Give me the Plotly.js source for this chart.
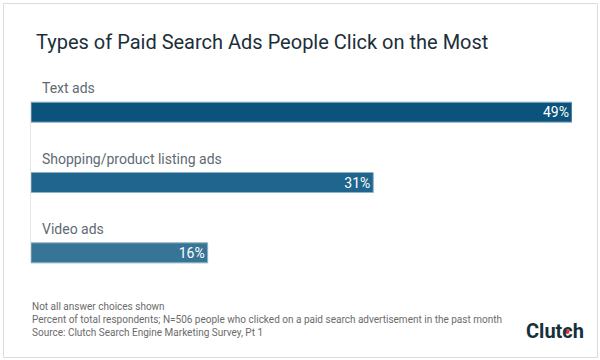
<!DOCTYPE html>
<html>
<head>
<meta charset="utf-8">
<script src="https://cdn.plot.ly/plotly-3.0.1.min.js"></script>
<style>
  html, body { margin: 0; padding: 0; background: #fff; }
  #chart { width: 600px; height: 360px; }
</style>
</head>
<body>
<div id="chart"></div>
<script>
// ---- data ----
const categories = ["Text ads", "Shopping/product listing ads", "Video ads"];
const values = [49, 31, 16];
const valueLabels = values.map(v => v + "%");
const titleText = "Types of Paid Search Ads People Click on the Most";
const footnotes = [
  "Not all answer choices shown",
  "Percent of total respondents; N=506 people who clicked on a paid search advertisement in the past month",
  "Source: Clutch Search Engine Marketing Survey, Pt 1"
];
const brand = "Clutch";

// ---- style ----
const barColors = ["#0b537c", "#1f658d", "#377596"];
const W = 600, H = 360;
const L = 31, R = 28, T = 77, B = 72;
const PW = W - L - R, PH = H - T - B;
const px = x => (x - L) / PW;        // pixel -> paper x
const py = y => (H - B - y) / PH;    // pixel -> paper y
const font = "Roboto, 'Open Sans', Arial, sans-serif";

const yPos = categories.map((c, i) => i);

const trace = {
  type: "bar",
  orientation: "h",
  x: values,
  y: yPos,
  width: 0.285,
  text: valueLabels,
  textposition: "inside",
  insidetextanchor: "end",
  constraintext: "none",
  textfont: { family: font, size: 14, color: "#ffffff" },
  marker: { color: barColors, line: { color: "#8fb1c6", width: 1 } },
  hoverinfo: "skip",
  cliponaxis: false
};

const annotations = categories.map((c, i) => ({
  text: c, x: 0, y: yPos[i], xref: "x", yref: "y",
  xanchor: "left", yanchor: "middle", xshift: 9, yshift: 24,
  showarrow: false, font: { family: font, size: 14, color: "#5d6a72" }
}));
footnotes.forEach((t, i) => annotations.push({
  text: t, x: px(30), y: py(306 + i * 13.2), xref: "paper", yref: "paper",
  xanchor: "left", yanchor: "middle", showarrow: false,
  font: { family: font, size: 10, color: "#6b6b6b" }
}));
annotations.push({
  text: "<b>" + brand + "</b>", x: px(555), y: py(331), xref: "paper", yref: "paper",
  xanchor: "center", yanchor: "middle", showarrow: false,
  font: { family: font, size: 20, color: "#17303b" }
});

const shapes = [
  { type: "rect", xref: "paper", yref: "paper", x0: px(3.5), x1: px(597.5), y0: py(3.5), y1: py(357.5),
    line: { color: "#dcdcdc", width: 1 }, fillcolor: "rgba(0,0,0,0)" },
  { type: "line", xref: "paper", yref: "paper", x0: px(30.5), x1: px(30.5), y0: py(101), y1: py(263),
    line: { color: "#e6e6e6", width: 1 } },
  { type: "circle", xref: "paper", yref: "paper", x0: px(565), x1: px(569.5), y0: py(329.5), y1: py(334),
    fillcolor: "#e5343c", line: { width: 0 } }
];

const layout = {
  width: W, height: H,
  margin: { l: L, r: R, t: T, b: B, pad: 0 },
  paper_bgcolor: "#ffffff", plot_bgcolor: "rgba(0,0,0,0)",
  title: {
    text: titleText, xref: "container", yref: "container",
    x: 36 / W, xanchor: "left", y: 1 - 42 / H, yanchor: "middle",
    font: { family: font, size: 20, color: "#1c2e3a" }
  },
  xaxis: { range: [0, 49], visible: false, fixedrange: true },
  yaxis: { range: [2.5, -0.5], visible: false, fixedrange: true },
  showlegend: false,
  annotations: annotations,
  shapes: shapes,
  bargap: 0
};

Plotly.newPlot("chart", [trace], layout, { displayModeBar: false, staticPlot: true });
</script>
</body>
</html>
